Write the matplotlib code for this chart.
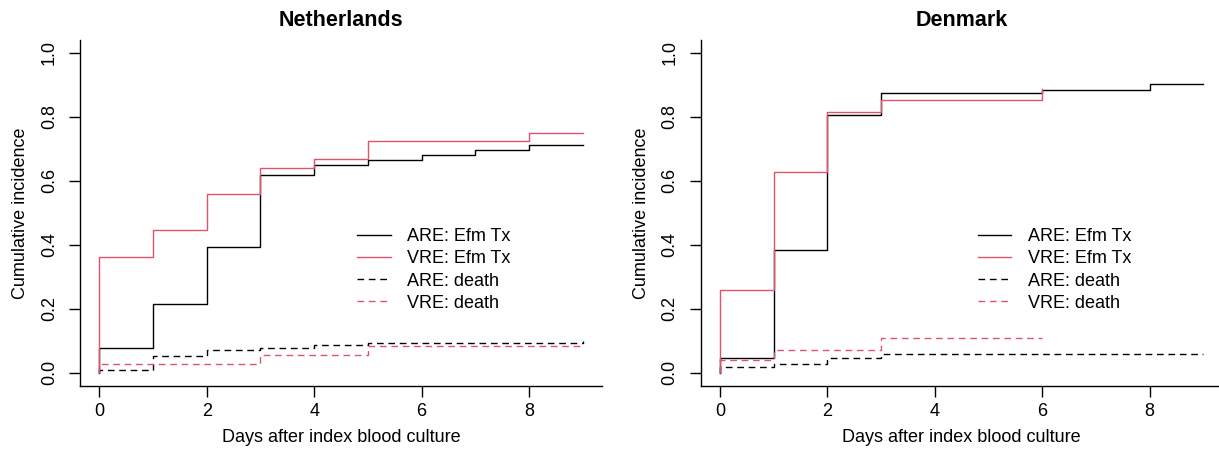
import matplotlib
matplotlib.use('Agg')
import matplotlib.pyplot as plt
import numpy as np

matplotlib.rcParams.update({
    'font.family': ['Liberation Sans', 'DejaVu Sans'],
    'font.size': 13,
})

RED = '#DF536B'
BLACK = 'black'

panels = ["Netherlands", "Denmark"]
labels = ["ARE: Efm Tx", "VRE: Efm Tx", "ARE: death", "VRE: death"]

# Netherlands: step times (days) and cumulative incidence
nl_are_tx_t = [0, 0, 1, 2, 3, 4, 5, 6, 7, 8, 9]
nl_are_tx_ci = [0, 0.077, 0.216, 0.393, 0.619, 0.650, 0.666, 0.682, 0.697, 0.713, 0.713]
nl_vre_tx_t = [0, 0, 1, 2, 3, 4, 5, 8, 9]
nl_vre_tx_ci = [0, 0.362, 0.445, 0.558, 0.641, 0.668, 0.723, 0.751, 0.751]
nl_are_d_t = [0, 0, 1, 2, 3, 4, 5, 9, 9]
nl_are_d_ci = [0, 0.009, 0.054, 0.070, 0.078, 0.086, 0.094, 0.100, 0.100]
nl_vre_d_t = [0, 0, 3, 5, 9]
nl_vre_d_ci = [0, 0.028, 0.057, 0.085, 0.085]

# Denmark
dk_are_tx_t = [0, 0, 1, 2, 3, 6, 8, 9]
dk_are_tx_ci = [0, 0.047, 0.384, 0.807, 0.875, 0.883, 0.904, 0.904]
dk_vre_tx_t = [0, 0, 1, 2, 3, 6]
dk_vre_tx_ci = [0, 0.259, 0.628, 0.816, 0.852, 0.887]
dk_are_d_t = [0, 0, 1, 2, 3, 9]
dk_are_d_ci = [0, 0.019, 0.028, 0.048, 0.058, 0.058]
dk_vre_d_t = [0, 0, 1, 3, 6]
dk_vre_d_ci = [0, 0.039, 0.073, 0.109, 0.109]

x_ticks = [0, 2, 4, 6, 8]
y_ticks = [0.0, 0.2, 0.4, 0.6, 0.8, 1.0]


def main():
    fig = plt.figure(figsize=(12.19, 4.53), dpi=100)
    W, H = 1219, 453
    bottom = 1 - 385.7 / H
    height = 345.7 / H
    axs = [fig.add_axes([80 / W, bottom, 522 / W, height]),
           fig.add_axes([700.7 / W, bottom, 522 / W, height])]

    data = {
        "Netherlands": [(nl_are_tx_t, nl_are_tx_ci), (nl_vre_tx_t, nl_vre_tx_ci),
                        (nl_are_d_t, nl_are_d_ci), (nl_vre_d_t, nl_vre_d_ci)],
        "Denmark": [(dk_are_tx_t, dk_are_tx_ci), (dk_vre_tx_t, dk_vre_tx_ci),
                    (dk_are_d_t, dk_are_d_ci), (dk_vre_d_t, dk_vre_d_ci)],
    }
    colors = [BLACK, RED, BLACK, RED]
    styles = ['solid', 'solid', (0, (4.8, 3.4)), (0, (4.8, 3.4))]

    for ax, name in zip(axs, panels):
        for (t, ci), col, ls, lb in zip(data[name], colors, styles, labels):
            ax.step(t, ci, where='post', color=col, linestyle=ls, lw=1.0, label=lb)

        ax.set_xlim(-0.36, 9.36)
        ax.set_ylim(-0.04, 1.04)
        ax.set_xticks(x_ticks)
        ax.set_yticks(y_ticks)
        ax.set_yticklabels([f"{v:.1f}" for v in y_ticks], rotation=90, va='center')
        ax.tick_params(axis='x', length=8, width=1, pad=4.5, labelsize=13)
        ax.tick_params(axis='y', length=8, width=1, pad=8, labelsize=13)
        for s in ['top', 'right']:
            ax.spines[s].set_visible(False)
        for s in ['left', 'bottom']:
            ax.spines[s].set_linewidth(1)

        ax.set_title(name, fontsize=15.5, fontweight='bold', pad=10)
        ax.set_xlabel("Days after index blood culture", fontsize=13)
        ax.set_ylabel("Cumulative incidence", fontsize=13)
        ax.xaxis.set_label_coords(0.5, -0.125)
        ax.yaxis.set_label_coords(-0.097, 0.5)

        ax.legend(loc='center left', bbox_to_anchor=(0.531, 0.335), frameon=False,
                  fontsize=13, handlelength=1.85, handletextpad=0.92,
                  labelspacing=0.29, borderpad=0, borderaxespad=0)

    fig.savefig("out.png", dpi=100)


if __name__ == "__main__":
    main()
